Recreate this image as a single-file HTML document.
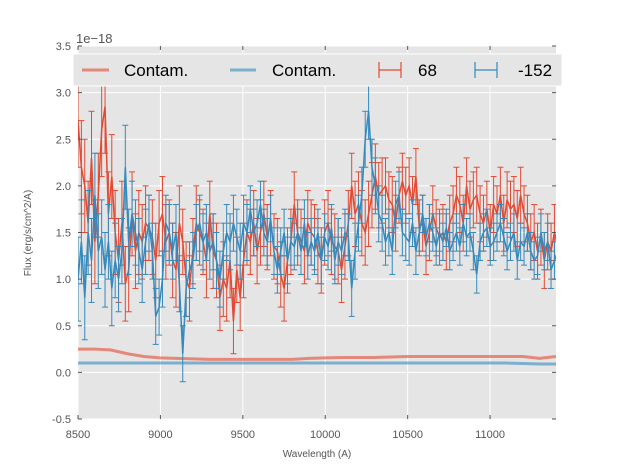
<!DOCTYPE html>
<html><head><meta charset="utf-8"><style>
body{margin:0;background:#fff;}
svg{display:block;font-family:"Liberation Sans","DejaVu Sans",sans-serif;}
</style></head><body>
<svg id="chart" width="617" height="467" viewBox="0 0 617 467" xmlns="http://www.w3.org/2000/svg">
<rect x="0" y="0" width="617" height="467" fill="#ffffff"/>
<rect x="78" y="46" width="478" height="373" fill="#e5e5e5"/>
<g id="grid"></g>
<g id="series"></g>
<g id="axes"></g>
<text x="76" y="43" font-size="13" fill="#555">1e−18</text>
<text x="317" y="457" font-size="10" fill="#555" text-anchor="middle">Wavelength (A)</text>
<text x="31" y="233" font-size="10" fill="#555" text-anchor="middle" transform="rotate(-90 31 233)">Flux (erg/s/cm^2/A)</text>
<g>
<rect x="73" y="54" width="489" height="32" fill="#e5e5e5" stroke="#ffffff" stroke-width="1"/>
<line x1="82" y1="70" x2="109" y2="70" stroke="#E24A33" stroke-opacity="0.6" stroke-width="3"/>
<text x="124" y="76" font-size="17" fill="#000">Contam.</text>
<line x1="230" y1="70" x2="256" y2="70" stroke="#348ABD" stroke-opacity="0.6" stroke-width="3"/>
<text x="272" y="76" font-size="17" fill="#000">Contam.</text>
<g stroke="#E24A33" stroke-width="1.2"><line x1="379" y1="70" x2="401" y2="70"/><line x1="379" y1="62" x2="379" y2="78"/><line x1="401" y1="62" x2="401" y2="78"/></g>
<text x="418" y="76" font-size="17" fill="#000">68</text>
<g stroke="#348ABD" stroke-width="1.2"><line x1="475" y1="70" x2="497" y2="70"/><line x1="475" y1="62" x2="475" y2="78"/><line x1="497" y1="62" x2="497" y2="78"/></g>
<text x="518" y="76" font-size="17" fill="#000">-152</text>
</g>
</svg>
<script>
const wlStart = 8500, wlStep = 20.5;
const red68 = [2.7,2.2,2.0,1.6,2.3,1.4,1.9,2.6,2.85,1.7,2.1,
1.5,1.2,1.6,0.95,1.1,1.7,1.3,1.5,1.4,1.6,
1.55,1.45,1.2,1.6,1.7,1.4,1.5,1.2,1.1,1.6,
1.4,1.0,0.9,1.3,1.6,1.5,1.4,1.2,1.7,1.3,
1.2,0.8,1.0,0.9,1.2,0.55,1.1,0.8,1.2,1.5,
1.4,1.6,1.3,1.5,1.7,1.45,1.6,1.35,1.3,1.05,
0.9,1.2,1.4,1.8,1.5,1.4,1.3,1.6,1.5,1.45,
1.3,1.2,1.5,1.6,1.4,1.35,1.3,1.1,1.35,1.6,
2.0,1.7,1.8,1.6,1.5,1.7,1.9,2.1,1.9,1.95,
2.0,1.85,1.8,1.6,1.9,2.05,1.9,2.0,1.8,2.1,
1.55,1.6,1.35,1.5,1.7,1.55,1.45,1.5,1.4,1.6,
1.7,1.9,1.8,1.6,2.0,1.75,1.85,1.9,1.7,1.6,
1.75,1.5,1.8,1.7,1.9,1.6,1.85,1.75,1.8,1.65,
1.9,1.7,1.6,1.4,1.5,1.3,1.45,1.2,1.4,1.3,
1.5,1.35,1.2,1.45,1.3];
const redErr = [0.5,0.5,0.5,0.45,0.5,0.45,0.45,0.5,0.5,0.45,0.45,
0.45,0.45,0.45,0.4,0.45,0.45,0.4,0.45,0.4,0.4,
0.35,0.4,0.4,0.35,0.4,0.4,0.35,0.4,0.4,0.4,
0.35,0.4,0.35,0.35,0.4,0.35,0.35,0.4,0.35,0.4,
0.4,0.35,0.4,0.35,0.4,0.35,0.35,0.35,0.4,0.35,
0.35,0.35,0.35,0.35,0.35,0.35,0.35,0.35,0.35,0.35,
0.35,0.35,0.35,0.35,0.35,0.35,0.35,0.35,0.35,0.35,
0.35,0.35,0.35,0.35,0.35,0.35,0.35,0.35,0.35,0.35,
0.35,0.35,0.35,0.35,0.35,0.35,0.35,0.35,0.35,0.35,
0.3,0.3,0.3,0.3,0.3,0.3,0.3,0.3,0.3,0.3,
0.3,0.3,0.3,0.3,0.3,0.3,0.3,0.3,0.3,0.3,
0.3,0.3,0.3,0.3,0.3,0.3,0.3,0.3,0.3,0.3,
0.3,0.3,0.3,0.3,0.3,0.3,0.3,0.3,0.3,0.3,
0.3,0.3,0.3,0.3,0.3,0.3,0.3,0.3,0.3,0.3,
0.3,0.3,0.3,0.3,0.3];
const blue152 = [1.0,1.4,0.8,1.5,1.2,1.9,1.3,1.45,1.1,1.4,0.9,
1.2,1.0,1.3,2.2,1.4,1.7,1.5,1.3,1.1,1.4,
1.6,1.3,0.6,0.7,1.0,1.6,1.5,1.3,1.5,0.95,
0.2,0.9,1.1,1.2,1.5,1.6,1.4,1.5,1.3,1.4,
1.2,1.0,1.3,1.5,1.4,1.6,1.45,1.3,1.6,1.5,
1.75,1.5,1.6,1.8,1.5,1.4,1.65,1.3,1.1,1.3,
1.5,1.2,1.4,1.35,1.5,1.3,1.6,1.25,1.4,1.3,
1.5,1.2,1.45,1.35,1.55,1.2,1.4,1.3,1.5,1.45,
0.9,1.3,1.6,1.9,2.5,2.8,2.2,2.0,1.7,1.6,
1.4,1.5,1.3,1.8,1.9,1.5,1.45,1.4,1.6,1.3,
1.5,1.7,1.45,1.6,1.5,1.35,1.5,1.4,1.55,1.3,
1.4,1.5,1.35,1.6,1.45,1.5,1.3,1.05,1.4,1.5,
1.55,1.35,1.4,1.5,1.6,1.45,1.3,1.4,1.5,1.2,
1.4,1.35,1.5,1.3,1.2,1.25,1.5,1.3,1.4,1.1,
1.2,1.3,1.5,1.4,1.45];
const blueErr = [0.45,0.45,0.45,0.45,0.45,0.45,0.4,0.4,0.4,0.4,0.4,
0.4,0.35,0.35,0.45,0.35,0.35,0.35,0.35,0.35,0.35,
0.3,0.3,0.3,0.3,0.3,0.3,0.3,0.3,0.3,0.3,
0.3,0.3,0.3,0.3,0.3,0.3,0.3,0.3,0.3,0.3,
0.3,0.3,0.3,0.3,0.3,0.3,0.3,0.3,0.3,0.3,
0.25,0.25,0.25,0.25,0.25,0.25,0.25,0.25,0.25,0.25,
0.25,0.25,0.25,0.25,0.25,0.25,0.25,0.25,0.25,0.25,
0.25,0.25,0.25,0.25,0.25,0.25,0.25,0.25,0.25,0.25,
0.3,0.3,0.3,0.3,0.3,0.3,0.3,0.3,0.3,0.3,
0.25,0.25,0.25,0.25,0.25,0.25,0.25,0.25,0.25,0.25,
0.2,0.2,0.2,0.2,0.2,0.2,0.2,0.2,0.2,0.2,
0.2,0.2,0.2,0.2,0.2,0.2,0.2,0.2,0.2,0.2,
0.2,0.2,0.2,0.2,0.2,0.2,0.2,0.2,0.2,0.2,
0.2,0.2,0.2,0.2,0.2,0.2,0.2,0.2,0.2,0.2,
0.2,0.2,0.2,0.2,0.2];
const contamStep = 100;
const redContam = [0.25,0.25,0.24,0.20,0.17,0.155,0.15,0.145,0.14,0.14,0.14,0.14,0.14,0.14,0.15,0.155,0.16,0.16,0.16,0.165,0.17,0.17,0.17,0.17,0.17,0.17,0.17,0.17,0.15,0.17];
const blueContam = [0.10,0.10,0.10,0.10,0.10,0.10,0.10,0.10,0.10,0.10,0.10,0.10,0.10,0.10,0.10,0.10,0.10,0.10,0.10,0.10,0.10,0.10,0.10,0.10,0.10,0.10,0.10,0.095,0.09,0.09];
const xTicks = [8500,9000,9500,10000,10500,11000];
const yTicks = [-0.5,0.0,0.5,1.0,1.5,2.0,2.5,3.0,3.5];

const X0=78,X1=556,Y0=46,Y1=419, XMIN=8500,XMAX=11400,YMIN=-0.5,YMAX=3.5;
const sx=v=>X0+(v-XMIN)/(XMAX-XMIN)*(X1-X0);
const sy=v=>Y1-(v-YMIN)/(YMAX-YMIN)*(Y1-Y0);
const NS="http://www.w3.org/2000/svg";
function mk(tag,attrs,parent){const e=document.createElementNS(NS,tag);for(const k in attrs)e.setAttribute(k,attrs[k]);parent.appendChild(e);return e;}
const grid=document.getElementById('grid'),ser=document.getElementById('series'),axes=document.getElementById('axes');
xTicks.forEach(t=>{
  const l=mk('line',{x1:sx(t),x2:sx(t),y1:Y0,y2:Y1,stroke:'#fff','stroke-width':1},grid);
  
  
  const tx=mk('text',{x:sx(t),y:Y1+19,'font-size':11,fill:'#555','text-anchor':'middle'},axes);
  tx.textContent=t;
  
  
  mk('line',{x1:sx(t),x2:sx(t),y1:Y0,y2:Y0+4,stroke:'#555'},axes);
  mk('line',{x1:sx(t),x2:sx(t),y1:Y1,y2:Y1-4,stroke:'#555'},axes);
});
yTicks.forEach(t=>{
  const l=mk('line',{x1:X0,x2:X1,y1:sy(t),y2:sy(t),stroke:'#fff','stroke-width':1},grid);
  
  
  const tx=mk('text',{x:X0-7,y:sy(t)+4,'font-size':11,fill:'#555','text-anchor':'end'},axes);
  tx.textContent=t.toFixed(1);
  
  
  mk('line',{x1:X0,x2:X0+4,y1:sy(t),y2:sy(t),stroke:'#555'},axes);
  mk('line',{x1:X1,x2:X1-4,y1:sy(t),y2:sy(t),stroke:'#555'},axes);
});
function contam(arr,color,name){
  const pts=arr.map((v,i)=>sx(wlStart+i*contamStep)+','+sy(v)).join(' ');
  const p=mk('polyline',{points:pts,fill:'none',stroke:color,'stroke-opacity':0.6,'stroke-width':3},ser);
  
  
}
function errSeries(vals,errs,color,name){
  const g=mk('g',{stroke:color,'stroke-width':1,fill:'none'},ser);
  
  
  vals.forEach((v,i)=>{
    const x=sx(wlStart+i*wlStep); if(x>X1+0.5) return;
    const a=sy(v+errs[i]),b=sy(v-errs[i]);
    mk('line',{x1:x,x2:x,y1:a,y2:b},g);
    mk('line',{x1:x-3,x2:x+3,y1:a,y2:a},g);
    mk('line',{x1:x-3,x2:x+3,y1:b,y2:b},g);
  });
  const pts=vals.map((v,i)=>sx(wlStart+i*wlStep)+','+sy(v)).join(' ');
  mk('polyline',{points:pts,'stroke-width':1.5},g);
}
const clip=mk('clipPath',{id:'pc'},document.getElementById('chart'));
mk('rect',{x:X0,y:Y0,width:X1-X0,height:Y1-Y0},clip);
ser.setAttribute('clip-path','url(#pc)');
contam(redContam,'#E24A33','red-contam-line');
contam(blueContam,'#348ABD','blue-contam-line');
errSeries(red68,redErr,'#E24A33','series-68');
errSeries(blue152,blueErr,'#348ABD','series-minus-152');
</script>
</body></html>
